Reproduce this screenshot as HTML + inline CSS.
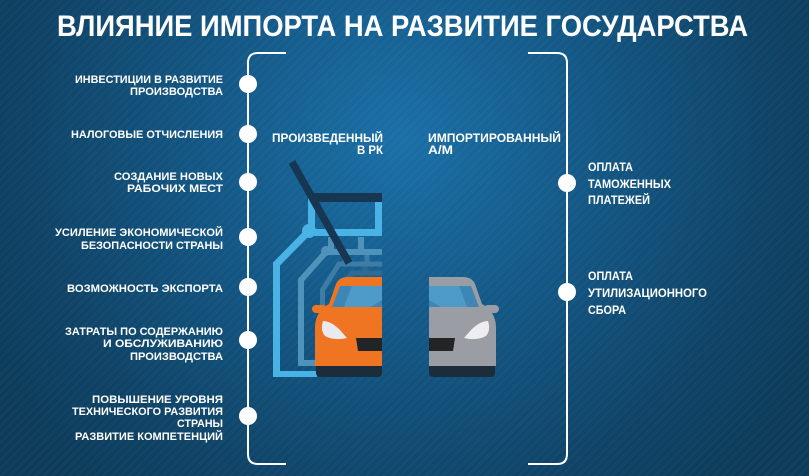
<!DOCTYPE html>
<html><head><meta charset="utf-8">
<style>
html,body{margin:0;padding:0;background:#0d3d5e;}
svg{display:block;}
text{font-family:"Liberation Sans","DejaVu Sans",sans-serif;font-weight:bold;fill:#fff;}
</style></head>
<body>
<svg width="809" height="476" viewBox="0 0 809 476" xmlns="http://www.w3.org/2000/svg">
<defs>
<radialGradient id="bg" cx="400" cy="140" r="470" gradientUnits="userSpaceOnUse">
<stop offset="0" stop-color="#1a6fa7"/>
<stop offset="0.45" stop-color="#125582"/>
<stop offset="0.8" stop-color="#0e4265"/>
<stop offset="1" stop-color="#0c3b5a"/>
</radialGradient>
<pattern id="str" width="6" height="6" patternUnits="userSpaceOnUse" patternTransform="rotate(-45)">
<rect width="6" height="3" fill="#ffffff" opacity="0.025"/>
</pattern>
</defs>
<rect width="809" height="476" fill="url(#bg)"/>
<rect width="809" height="476" fill="url(#str)"/>

<!-- Title -->
<text x="57" y="36" font-size="30" textLength="691" lengthAdjust="spacingAndGlyphs">ВЛИЯНИЕ ИМПОРТА НА РАЗВИТИЕ ГОСУДАРСТВА</text>

<!-- Brackets -->
<path d="M286,53 H258 Q248,53 248,63 V454 Q248,464 258,464 H286" fill="none" stroke="#fff" stroke-width="2"/>
<path d="M528,53 H557 Q567,53 567,63 V454 Q567,464 557,464 H528" fill="none" stroke="#fff" stroke-width="2"/>
<g fill="#fff">
<circle cx="248" cy="84" r="9"/>
<circle cx="248" cy="134" r="9"/>
<circle cx="248" cy="182" r="9"/>
<circle cx="248" cy="237" r="9"/>
<circle cx="248" cy="287" r="9"/>
<circle cx="248" cy="340" r="9"/>
<circle cx="248" cy="416" r="9"/>
<circle cx="567" cy="183" r="9"/>
<circle cx="567" cy="292" r="9"/>
</g>

<!-- Left labels -->
<g font-size="11">
<text x="75" y="83" textLength="148" lengthAdjust="spacingAndGlyphs">ИНВЕСТИЦИИ В РАЗВИТИЕ</text>
<text x="130" y="95" textLength="93" lengthAdjust="spacingAndGlyphs">ПРОИЗВОДСТВА</text>
<text x="71" y="138" textLength="152" lengthAdjust="spacingAndGlyphs">НАЛОГОВЫЕ ОТЧИСЛЕНИЯ</text>
<text x="114" y="180" textLength="109" lengthAdjust="spacingAndGlyphs">СОЗДАНИЕ НОВЫХ</text>
<text x="127" y="192" textLength="96" lengthAdjust="spacingAndGlyphs">РАБОЧИХ МЕСТ</text>
<text x="55" y="236" textLength="168" lengthAdjust="spacingAndGlyphs">УСИЛЕНИЕ ЭКОНОМИЧЕСКОЙ</text>
<text x="81" y="249" textLength="142" lengthAdjust="spacingAndGlyphs">БЕЗОПАСНОСТИ СТРАНЫ</text>
<text x="67" y="292" textLength="156" lengthAdjust="spacingAndGlyphs">ВОЗМОЖНОСТЬ ЭКСПОРТА</text>
<text x="65" y="335" textLength="158" lengthAdjust="spacingAndGlyphs">ЗАТРАТЫ ПО СОДЕРЖАНИЮ</text>
<text x="103" y="347" textLength="120" lengthAdjust="spacingAndGlyphs">И ОБСЛУЖИВАНИЮ</text>
<text x="130" y="360" textLength="93" lengthAdjust="spacingAndGlyphs">ПРОИЗВОДСТВА</text>
<text x="92" y="403" textLength="131" lengthAdjust="spacingAndGlyphs">ПОВЫШЕНИЕ УРОВНЯ</text>
<text x="72" y="415" textLength="151" lengthAdjust="spacingAndGlyphs">ТЕХНИЧЕСКОГО РАЗВИТИЯ</text>
<text x="177" y="427" textLength="46" lengthAdjust="spacingAndGlyphs">СТРАНЫ</text>
<text x="75" y="440" textLength="148" lengthAdjust="spacingAndGlyphs">РАЗВИТИЕ КОМПЕТЕНЦИЙ</text>
</g>

<!-- Middle labels -->
<g font-size="11.5">
<text x="272" y="142" textLength="111" lengthAdjust="spacingAndGlyphs">ПРОИЗВЕДЕННЫЙ</text>
<text x="357" y="154" textLength="26" lengthAdjust="spacingAndGlyphs">В РК</text>
<text x="428" y="142" textLength="133" lengthAdjust="spacingAndGlyphs">ИМПОРТИРОВАННЫЙ</text>
<text x="428" y="154" textLength="25" lengthAdjust="spacingAndGlyphs">А/М</text>
</g>

<!-- Right labels -->
<g font-size="11.5">
<text x="588" y="171" textLength="45" lengthAdjust="spacingAndGlyphs">ОПЛАТА</text>
<text x="588" y="188" textLength="83" lengthAdjust="spacingAndGlyphs">ТАМОЖЕННЫХ</text>
<text x="588" y="204" textLength="62" lengthAdjust="spacingAndGlyphs">ПЛАТЕЖЕЙ</text>
<text x="588" y="280" textLength="45" lengthAdjust="spacingAndGlyphs">ОПЛАТА</text>
<text x="588" y="297" textLength="119" lengthAdjust="spacingAndGlyphs">УТИЛИЗАЦИОННОГО</text>
<text x="588" y="314" textLength="38" lengthAdjust="spacingAndGlyphs">СБОРА</text>
</g>

<!-- Gantry -->
<!-- layer 4 -->
<g fill="none" stroke="#2f6a92" stroke-width="5">
<path d="M343,300 V285 L352,273 H382"/>
<path d="M365,262 V273"/>
</g>
<!-- layer 3 -->
<g fill="none" stroke="#3d7ca5" stroke-width="5">
<path d="M322.5,330 V290 L339,264 H382"/>
<path d="M345,252 V264 M367,252 V264"/>
</g>
<!-- layer 2 -->
<g fill="none" stroke="#4f93bd" stroke-width="6">
<path d="M301,366 V280 L326,252 H382"/>
<path d="M331,237 V252 M361,237 V252"/>
</g>
<rect x="298" y="360" width="20" height="6" fill="#4f93bd"/>
<circle cx="326" cy="251" r="5" fill="#4f93bd"/>
<!-- layer 1 light -->
<g fill="none" stroke="#49b3e6" stroke-width="7">
<path d="M276.5,377 V264 L306,234"/>
<path d="M311.5,198 V232"/>
<path d="M306,232.5 H382"/>
<path d="M378.5,200 V236"/>
</g>
<rect x="273" y="371" width="44" height="6" fill="#49b3e6"/>
<circle cx="309" cy="231" r="7" fill="#49b3e6"/>
<!-- dark top bar (on top) -->
<rect x="314" y="193" width="68" height="9" fill="#173651"/>
<!-- dark diagonal -->
<line x1="292" y1="162" x2="349" y2="263" stroke="#173651" stroke-width="7.5"/>

<!-- Orange car -->
<g>
<rect x="316" y="360" width="66" height="17" rx="4" fill="#1b2c3b"/>
<path d="M382,277 L348,277 Q339,277 336,284 L329,304 Q316,311 315,326 L315,366 L382,366 Z" fill="#f07522"/>
<path d="M340,286 L382,286 L382,307 L332,307 Z" fill="#3e86b5"/>
<path d="M352,286 L382,286 L382,300 L370,307 L344,307 Z" fill="#5aa8d6" opacity="0.6"/>
<rect x="312" y="305" width="15" height="8" rx="4" fill="#f07522"/>
<path d="M323,321 Q331,321 340,330 L347,338 Q334,341 325,336 Q320,330 323,321 Z" fill="#e9e9ef"/>
<path d="M356,338 H382 V351 H358 Z" fill="#222426"/>
</g>

<!-- Grey car (mirrored) -->
<g transform="translate(811,0) scale(-1,1)">
<rect x="316" y="360" width="66" height="17" rx="4" fill="#1b2c3b"/>
<path d="M382,277 L348,277 Q339,277 336,284 L329,304 Q316,311 315,326 L315,366 L382,366 Z" fill="#9a9da3"/>
<path d="M340,286 L382,286 L382,307 L332,307 Z" fill="#3e86b5"/>
<path d="M352,286 L382,286 L382,300 L370,307 L344,307 Z" fill="#5aa8d6" opacity="0.6"/>
<rect x="312" y="305" width="15" height="8" rx="4" fill="#9a9da3"/>
<path d="M323,321 Q331,321 340,330 L347,338 Q334,341 325,336 Q320,330 323,321 Z" fill="#eeeef2"/>
<path d="M356,338 H382 V351 H358 Z" fill="#222426"/>
</g>
</svg>
</body></html>
